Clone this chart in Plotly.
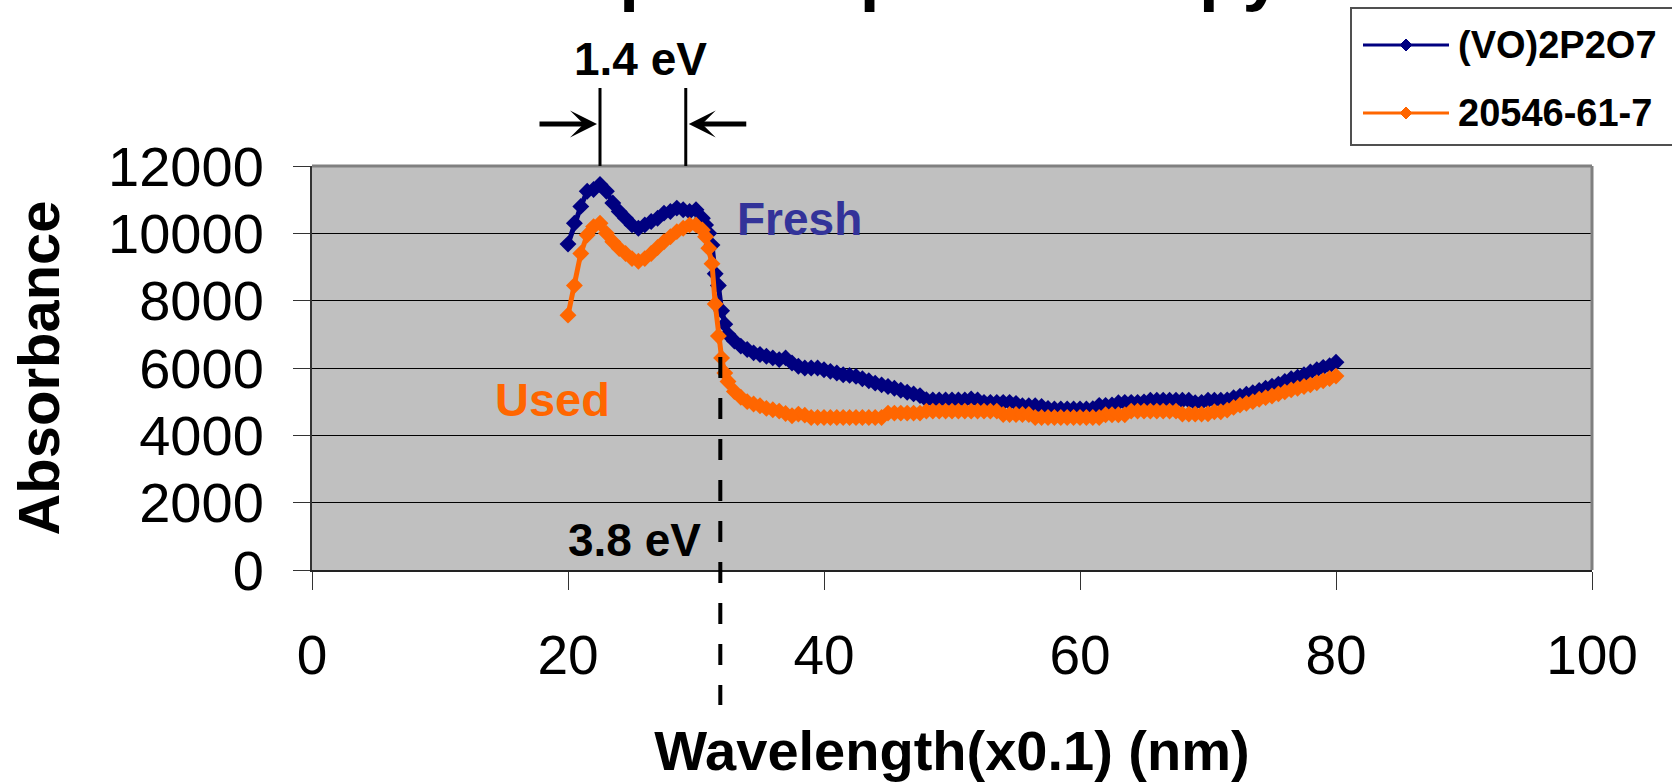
import plotly.graph_objects as go

# ---------------- data ----------------
series_names = ["(VO)2P2O7", "20546-61-7"]
label_fresh = "Fresh"
label_used = "Used"

wavelength = [20.0, 20.5, 21.0, 21.5, 22.0, 22.5, 23.0, 23.5, 24.0, 24.5,
              25.0, 25.5, 26.0, 26.5, 27.0, 27.5, 28.0, 28.5, 29.0, 29.5,
              30.0, 30.5, 30.75, 31.0, 31.25, 31.5, 31.75, 32.0, 32.25, 32.5,
              33.0, 33.5, 34.0, 34.5, 35.0, 35.5, 36.0, 36.5, 37.0, 37.5,
              38.0, 38.5, 39.0, 39.5, 40.0, 40.5, 41.0, 41.5, 42.0, 42.5,
              43.0, 43.5, 44.0, 44.5, 45.0, 45.5, 46.0, 46.5, 47.0, 47.5,
              48.0, 48.5, 49.0, 49.5, 50.0, 50.5, 51.0, 51.5, 52.0, 52.5,
              53.0, 53.5, 54.0, 54.5, 55.0, 55.5, 56.0, 56.5, 57.0, 57.5,
              58.0, 58.5, 59.0, 59.5, 60.0, 60.5, 61.0, 61.5, 62.0, 62.5,
              63.0, 63.5, 64.0, 64.5, 65.0, 65.5, 66.0, 66.5, 67.0, 67.5,
              68.0, 68.5, 69.0, 69.5, 70.0, 70.5, 71.0, 71.5, 72.0, 72.5,
              73.0, 73.5, 74.0, 74.5, 75.0, 75.5, 76.0, 76.5, 77.0, 77.5,
              78.0, 78.5, 79.0, 79.5, 80.0]

fresh = [9680, 10300, 10800, 11250, 11300, 11450, 11250, 10900, 10650, 10450,
         10250, 10150, 10250, 10350, 10450, 10600, 10650, 10750, 10700, 10650,
         10700, 10450, 10250, 10000, 9650, 8800, 8450, 7700, 7300, 7000,
         6800, 6650, 6550, 6450, 6400, 6350, 6300, 6250, 6300, 6150,
         6050, 6000, 6000, 6000, 5950, 5900, 5850, 5800, 5780, 5750,
         5680, 5620, 5550, 5500, 5450, 5400, 5340, 5280, 5230, 5180,
         5060, 5050, 5050, 5050, 5050, 5050, 5050, 5080, 5050, 4980,
         4980, 4980, 4980, 4980, 4950, 4880, 4880, 4880, 4860, 4800,
         4780, 4780, 4780, 4780, 4780, 4780, 4790, 4890, 4890, 4900,
         4970, 4980, 4980, 4980, 4990, 5040, 5040, 5040, 5040, 5040,
         5040, 5040, 4970, 4980, 5040, 5040, 5040, 5050, 5120, 5160,
         5220, 5270, 5330, 5400, 5460, 5520, 5600, 5680, 5730, 5800,
         5880, 5950, 6020, 6070, 6170]

used = [7570, 8450, 9400, 9950, 10200, 10300, 10000, 9750, 9550, 9400,
        9250, 9170, 9250, 9400, 9580, 9750, 9900, 10050, 10150, 10250,
        10250, 10100, 9900, 9560, 9100, 7900, 6950, 6300, 5850, 5600,
        5300, 5130, 5000, 4930, 4880, 4800, 4760, 4720, 4650, 4580,
        4630, 4600, 4530, 4530, 4530, 4530, 4530, 4530, 4530, 4530,
        4530, 4530, 4530, 4530, 4660, 4660, 4660, 4660, 4660, 4660,
        4720, 4720, 4720, 4720, 4720, 4720, 4720, 4720, 4720, 4720,
        4720, 4720, 4620, 4620, 4620, 4620, 4620, 4530, 4530, 4530,
        4530, 4530, 4530, 4530, 4530, 4530, 4530, 4530, 4610, 4610,
        4610, 4610, 4720, 4720, 4720, 4720, 4720, 4720, 4720, 4720,
        4630, 4630, 4630, 4630, 4640, 4700, 4700, 4750, 4830, 4900,
        4950, 5000, 5070, 5120, 5170, 5230, 5290, 5350, 5400, 5450,
        5500, 5560, 5620, 5690, 5760]

x_ticks = [0, 20, 40, 60, 80, 100]
y_ticks = [0, 2000, 4000, 6000, 8000, 10000, 12000]

gap_lines_x = [22.5, 29.2]      # the two peaks marked "1.4 eV"
edge_line_x = 31.9              # absorption edge marked "3.8 eV"
gap_label = "1.4 eV"
edge_label = "3.8 eV"
title_text = "Absorption Spectroscopy"
x_title = "Wavelength(x0.1) (nm)"
y_title = "Absorbance"

# ---------------- layout geometry ----------------
W, H = 1672, 783
ML, MR, MT, MB = 312, 80, 166, 213
PW, PH = W - ML - MR, H - MT - MB
FONT = "Liberation Sans, Arial, sans-serif"
NAVY = "#000080"
ORANGE = "#FF6600"


def pxx(p):
    return (p - ML) / PW


def pxy(p):
    return (H - MB - p) / PH


fig = go.Figure()
fig.add_trace(go.Scatter(
    x=wavelength, y=fresh, mode="lines+markers", name=series_names[0],
    line=dict(color=NAVY, width=5),
    marker=dict(symbol="diamond", size=13, color=NAVY),
    showlegend=False))
fig.add_trace(go.Scatter(
    x=wavelength, y=used, mode="lines+markers", name=series_names[1],
    line=dict(color=ORANGE, width=5),
    marker=dict(symbol="diamond", size=13, color=ORANGE),
    showlegend=False))

shapes = []
# plot-area frame (top and right, grey)
shapes.append(dict(type="line", xref="paper", yref="paper", x0=0, x1=1, y0=1, y1=1,
                   line=dict(color="#808080", width=3)))
shapes.append(dict(type="line", xref="paper", yref="paper", x0=1, x1=1, y0=0, y1=1,
                   line=dict(color="#808080", width=3)))
# dashed absorption-edge line
shapes.append(dict(type="line", xref="x", yref="paper", x0=edge_line_x, x1=edge_line_x,
                   y0=pxy(357), y1=pxy(705), line=dict(color="black", width=4, dash="21px,20px")))
# vertical markers for the 1.4 eV gap
for gx in gap_lines_x:
    shapes.append(dict(type="line", xref="x", yref="paper", x0=gx, x1=gx,
                       y0=pxy(88), y1=1.0, line=dict(color="black", width=3)))

# manual legend
shapes.append(dict(type="rect", xref="paper", yref="paper",
                   x0=pxx(1351), x1=pxx(1690), y0=pxy(145), y1=pxy(8),
                   line=dict(color="#505050", width=2), fillcolor="white", layer="above"))
legend_rows = [45, 113]
legend_colors = [NAVY, ORANGE]
for ry, col in zip(legend_rows, legend_colors):
    shapes.append(dict(type="line", xref="paper", yref="paper",
                       x0=pxx(1363), x1=pxx(1449), y0=pxy(ry), y1=pxy(ry),
                       line=dict(color=col, width=3)))
    cx, d = 1406, 6
    path = (f"M {pxx(cx - d)},{pxy(ry)} L {pxx(cx)},{pxy(ry - d)} "
            f"L {pxx(cx + d)},{pxy(ry)} L {pxx(cx)},{pxy(ry + d)} Z")
    shapes.append(dict(type="path", xref="paper", yref="paper", path=path,
                       fillcolor=col, line=dict(color=col, width=1)))

annotations = []
for name, ry in zip(series_names, legend_rows):
    annotations.append(dict(text=name, xref="paper", yref="paper", x=pxx(1456), y=pxy(ry),
                            xanchor="left", yanchor="middle", showarrow=False,
                            font=dict(family=FONT, size=38, color="black", weight="bold")))

# title (mostly cut off at the top of the page, as in the source)
annotations.append(dict(text=title_text, xref="paper", yref="paper", x=pxx(848), y=pxy(-28),
                        xanchor="center", yanchor="middle", showarrow=False,
                        font=dict(family=FONT, size=71, color="black", weight="bold")))

# 1.4 eV label and arrows
annotations.append(dict(text=gap_label, xref="paper", yref="paper", x=pxx(640), y=pxy(59),
                        xanchor="center", yanchor="middle", showarrow=False,
                        font=dict(family=FONT, size=46, color="black", weight="bold")))
annotations.append(dict(text="", xref="x", yref="paper", x=gap_lines_x[0], y=pxy(124),
                        ax=-62, ay=0, showarrow=True, arrowhead=3, arrowwidth=5,
                        arrowsize=0.9, arrowcolor="black", standoff=3))
annotations.append(dict(text="", xref="x", yref="paper", x=gap_lines_x[1], y=pxy(124),
                        ax=62, ay=0, showarrow=True, arrowhead=3, arrowwidth=5,
                        arrowsize=0.9, arrowcolor="black", standoff=3))
# 3.8 eV label
annotations.append(dict(text=edge_label, xref="paper", yref="paper", x=pxx(634), y=pxy(540),
                        xanchor="center", yanchor="middle", showarrow=False,
                        font=dict(family=FONT, size=46, color="black", weight="bold")))
# series labels
annotations.append(dict(text=label_fresh, xref="paper", yref="paper", x=pxx(799), y=pxy(219),
                        xanchor="center", yanchor="middle", showarrow=False,
                        font=dict(family=FONT, size=46, color="#333399", weight="bold")))
annotations.append(dict(text=label_used, xref="paper", yref="paper", x=pxx(552), y=pxy(399),
                        xanchor="center", yanchor="middle", showarrow=False,
                        font=dict(family=FONT, size=47, color=ORANGE, weight="bold")))

fig.update_layout(
    width=W, height=H,
    margin=dict(l=ML, r=MR, t=MT, b=MB, pad=0),
    paper_bgcolor="white", plot_bgcolor="#C0C0C0",
    font=dict(family=FONT, color="black"),
    shapes=shapes, annotations=annotations,
    showlegend=False,
)
fig.update_xaxes(
    range=[0, 100], tickvals=x_ticks, ticktext=[str(v) for v in x_ticks],
    ticks="outside", ticklen=18, tickwidth=1, tickcolor="#333333",
    showgrid=False, zeroline=False, showline=True, linecolor="#222222", linewidth=2,
    tickfont=dict(family=FONT, size=55, color="black"), ticklabelstandoff=18,
    title=dict(text=x_title, font=dict(family=FONT, size=56, color="black", weight="bold"),
               standoff=46),
    automargin=False,
)
fig.update_yaxes(
    range=[0, 12000], tickvals=y_ticks, ticktext=[str(v) for v in y_ticks],
    ticks="outside", ticklen=17, tickwidth=1, tickcolor="#333333",
    showgrid=True, gridcolor="#000000", gridwidth=1,
    zeroline=False, showline=True, linecolor="#333333", linewidth=2,
    tickfont=dict(family=FONT, size=56, color="black"), ticklabelstandoff=18,
    title=dict(text=y_title, font=dict(family=FONT, size=58, color="black", weight="bold"),
               standoff=30),
    automargin=False,
)

fig.write_html("out.html")
